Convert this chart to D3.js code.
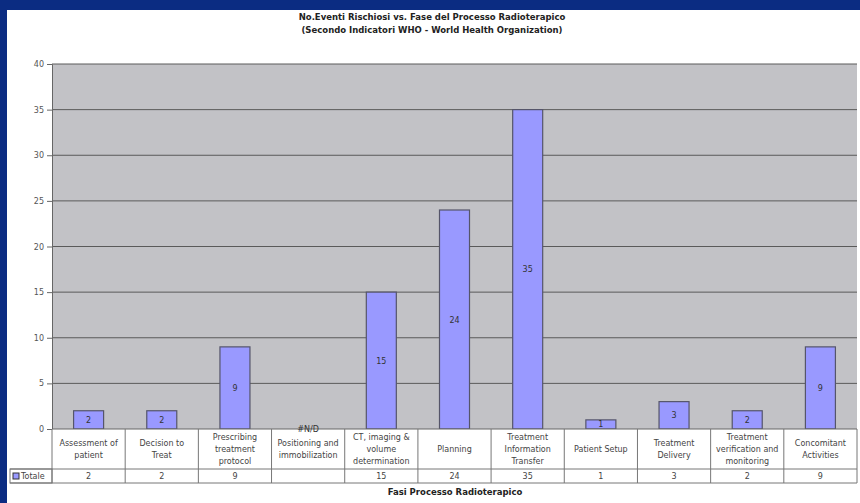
<!DOCTYPE html>
<html>
<head>
<meta charset="utf-8">
<script src="https://cdn.jsdelivr.net/npm/d3@7"></script>
<style>
  html, body { margin: 0; padding: 0; background: #0b2c82; }
  svg { display: block; }
  text { font-family: "DejaVu Sans", Verdana, sans-serif; }
</style>
</head>
<body>
<svg id="chart" width="860" height="503"></svg>
<script>
const categories = [
  "Assessment of patient", "Decision to Treat", "Prescribing treatment protocol",
  "Positioning and immobilization", "CT, imaging & volume determination", "Planning",
  "Treatment Information Transfer", "Patient Setup", "Treatment Delivery",
  "Treatment verification and monitoring", "Concomitant Activities"
];
const categoryLines = [
  ["Assessment of", "patient"], ["Decision to", "Treat"], ["Prescribing", "treatment", "protocol"],
  ["Positioning and", "immobilization"], ["CT, imaging &", "volume", "determination"], ["Planning"],
  ["Treatment", "Information", "Transfer"], ["Patient Setup"], ["Treatment", "Delivery"],
  ["Treatment", "verification and", "monitoring"], ["Concomitant", "Activities"]
];
const values = [2, 2, 9, null, 15, 24, 35, 1, 3, 2, 9];
const yTicks = [0, 5, 10, 15, 20, 25, 30, 35, 40];
const seriesName = "Totale";
const titleLines = [
  "No.Eventi Rischiosi vs. Fase del Processo Radioterapico",
  "(Secondo Indicatori WHO - World Health Organization)"
];
const xTitle = "Fasi Processo Radioterapico";

const svg = d3.select("#chart");
svg.append("rect").attr("x", 7).attr("y", 10).attr("width", 853).attr("height", 493).attr("fill", "#ffffff");

const plot = { left: 52, right: 857, top: 64, bottom: 429 };
const x = d3.scaleBand().domain(categories).range([plot.left, plot.right]).paddingInner(0).paddingOuter(0);
const y = d3.scaleLinear().domain([0, 40]).range([plot.bottom, plot.top]);

svg.append("rect").attr("x", plot.left).attr("y", plot.top)
  .attr("width", plot.right - plot.left).attr("height", plot.bottom - plot.top)
  .attr("fill", "#c2c2c6");

svg.append("g").selectAll("line").data(yTicks.filter(d => d > 0)).join("line")
  .attr("x1", plot.left).attr("x2", plot.right)
  .attr("y1", d => y(d)).attr("y2", d => y(d))
  .attr("stroke", "#5a5a5a").attr("stroke-width", 1);

const yAxis = d3.axisLeft(y).tickValues(yTicks).tickSize(5).tickPadding(3);
const gy = svg.append("g").attr("transform", `translate(${plot.left},0)`).call(yAxis);
gy.select(".domain").attr("stroke", "#666");
gy.selectAll(".tick line").attr("stroke", "#666");
gy.selectAll(".tick text").attr("fill", "#555").style("font-size", "8px").style("font-family", "DejaVu Sans, sans-serif");

const barW = x.bandwidth() * 0.41;
const data = categories.map((c, i) => ({ c, v: values[i], lines: categoryLines[i] }));
svg.append("g").selectAll("rect").data(data.filter(d => d.v != null)).join("rect")
  .attr("x", d => x(d.c) + (x.bandwidth() - barW) / 2)
  .attr("y", d => y(d.v))
  .attr("width", barW)
  .attr("height", d => y(0) - y(d.v))
  .attr("fill", "#9999ff")
  .attr("stroke", "#55556a").attr("stroke-width", 1.2);

// data table
const rowTop = plot.bottom, rowMid = 469, rowBot = 483;
const tbl = svg.append("g");
tbl.append("rect").attr("x", plot.left).attr("y", rowTop).attr("width", plot.right - plot.left).attr("height", rowBot - rowTop)
  .attr("fill", "#fff");
tbl.append("rect").attr("x", 10).attr("y", rowMid).attr("width", plot.left - 10).attr("height", rowBot - rowMid)
  .attr("fill", "#fff").attr("stroke", "#777");
tbl.append("line").attr("x1", 10).attr("x2", plot.right).attr("y1", rowMid).attr("y2", rowMid).attr("stroke", "#777");
tbl.append("line").attr("x1", 10).attr("x2", plot.right).attr("y1", rowBot).attr("y2", rowBot).attr("stroke", "#777");
tbl.append("line").attr("x1", plot.right).attr("x2", plot.right).attr("y1", rowTop).attr("y2", rowBot).attr("stroke", "#777");
tbl.append("line").attr("x1", plot.left).attr("x2", plot.right).attr("y1", rowTop).attr("y2", rowTop).attr("stroke", "#666");
tbl.selectAll("line.v").data(categories).join("line").attr("class", "v")
  .attr("x1", d => x(d)).attr("x2", d => x(d))
  .attr("y1", rowTop).attr("y2", rowBot).attr("stroke", "#777");

const lineH = 12;
tbl.selectAll("text.cat").data(data).join("text").attr("class", "cat")
  .attr("text-anchor", "middle").attr("fill", "#444").style("font-size", "8px")
  .each(function(d) {
    const n = d.lines.length;
    const cy = (rowTop + rowMid) / 2 + 3 - (n - 1) * lineH / 2;
    d3.select(this).selectAll("tspan").data(d.lines).join("tspan")
      .attr("x", x(d.c) + x.bandwidth() / 2)
      .attr("y", (l, i) => cy + i * lineH)
      .text(l => l);
  });

tbl.selectAll("text.val").data(data).join("text").attr("class", "val")
  .attr("x", d => x(d.c) + x.bandwidth() / 2).attr("y", rowBot - 4)
  .attr("text-anchor", "middle").attr("fill", "#444").style("font-size", "8px")
  .text(d => d.v == null ? "" : d.v);

tbl.append("rect").attr("x", 13).attr("y", rowMid + 4).attr("width", 6).attr("height", 6)
  .attr("fill", "#9999ff").attr("stroke", "#333");
tbl.append("text").attr("x", 21).attr("y", rowBot - 4).attr("fill", "#444").style("font-size", "8px").text(seriesName);

// bar labels (drawn last so #N/D overlays table edge)
svg.append("g").selectAll("text").data(data).join("text")
  .attr("x", d => x(d.c) + x.bandwidth() / 2)
  .attr("y", d => d.v == null ? y(0) + 3 : (y(d.v) + y(0)) / 2 + 3)
  .attr("text-anchor", "middle")
  .attr("fill", "#333")
  .style("font-size", "8px")
  .text(d => d.v == null ? "#N/D" : d.v);

svg.append("g").selectAll("text").data(titleLines).join("text")
  .attr("x", 432).attr("y", (d, i) => 20 + i * 13)
  .attr("text-anchor", "middle").attr("fill", "#222")
  .style("font-size", "8.5px").style("font-weight", "600")
  .text(d => d);

svg.append("text").attr("x", 455).attr("y", 495).attr("text-anchor", "middle")
  .attr("fill", "#222").style("font-size", "8.5px").style("font-weight", "bold").text(xTitle);
</script>
</body>
</html>
